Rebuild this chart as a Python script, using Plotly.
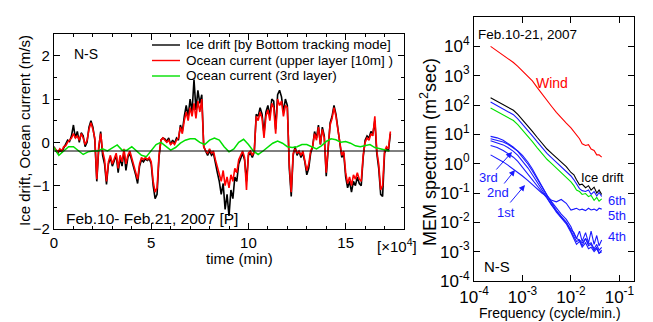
import plotly.graph_objects as go

W, H = 653, 322
FONT = "Liberation Sans"

# ---------------- left panel data (time in units of 1e4 min) ----------------
t_fine = [round(i * 0.1, 1) for i in range(174)]  # 0.0 .. 17.3
ocean_upper = [
    -0.12, -0.18, -0.22, -0.15, -0.20, -0.10, -0.08, 0.00, 0.05, 0.10,
    0.20, 0.10, 0.15, 0.05, 0.20, 0.10, -0.05, 0.05, 0.30, 0.45,
    0.30, 0.10, -0.85, -0.10, 0.20, -0.20, -0.40, -0.90, -0.45, -0.30,
    -0.50, -0.35, -0.25, -0.60, -0.30, -0.45, -0.15, -0.50, -0.30, -0.20,
    -0.35, -0.55, -0.65, -0.85, -0.50, -0.35, -0.40, -0.35, -0.40, -0.35,
    -0.45, -0.90, -1.15, -1.05, -0.30, 0.05, 0.10, 0.05, 0.00, 0.05,
    -0.05, 0.00, -0.05, 0.05, 0.10, 0.35, 0.20, 0.50, 0.70, 0.50,
    0.80, 0.60, 0.90, 0.55, 0.95, 0.70, 1.00, -0.10, -0.20, -0.25,
    -0.15, -0.25, -0.20, -0.40, -0.55, -0.70, -0.90, -0.65, -1.00, -0.80,
    -1.05, -0.75, -0.90, -0.60, -0.70, -0.40, -0.30, -0.20, -0.35, -1.10,
    -0.25, -0.20, -0.30, -0.20, 0.60, 0.50, 0.70, 0.55, 0.10, 0.60,
    0.75, 0.50, 0.90, 0.80, 0.20, 1.00, 0.85, 0.95, 0.60, 0.85,
    0.80, -0.50, -1.15, -0.25, -0.15, -0.25, -0.20, -0.30, -0.20, -0.40,
    -0.65, -0.50, -0.20, -0.10, 0.20, 0.05, 0.35, -0.05, 0.30, 0.10,
    -0.70, -0.10, 0.40, 0.55, 0.80, 0.60, 0.30, 0.00, -0.30, -0.20,
    -0.70, -0.95, -0.80, -1.00, -0.75, -0.85, -0.70, -0.85, -0.90, -0.30,
    0.00, 0.10, 0.05, 0.20, 0.15, 0.60, -0.20, -0.50, -1.10, -1.00,
    -0.20, -0.10, -0.15, 0.25,
]
ice_drift = [
    -0.10, -0.20, -0.25, -0.18, -0.22, -0.12, -0.05, 0.05, 0.02, 0.15,
    0.40, 0.10, 0.25, 0.00, 0.22, 0.15, -0.10, 0.00, 0.35, 0.50,
    0.35, 0.05, -0.90, -0.15, 0.25, -0.30, -0.50, -0.97, -0.50, -0.35,
    -0.55, -0.40, -0.30, -0.70, -0.35, -0.55, -0.20, -0.65, -0.35, -0.25,
    -0.40, -0.60, -0.75, -0.95, -0.55, -0.40, -0.45, -0.38, -0.42, -0.38,
    -0.50, -1.00, -1.30, -1.20, -0.35, 0.05, 0.10, 0.08, 0.02, 0.10,
    -0.05, 0.05, -0.02, 0.10, 0.05, 0.40, 0.25, 0.60, 0.85, 0.60,
    1.00, 0.70, 1.45, 0.75, 1.20, 0.90, 1.10, -0.10, -0.20, -0.30,
    -0.20, -0.30, -0.25, -0.50, -0.70, -0.90, -1.20, -0.95, -1.55, -1.20,
    -1.70, -1.10, -1.30, -0.80, -0.90, -0.50, -0.35, -0.25, -0.40, -0.90,
    -0.30, -0.25, -0.35, -0.22, 0.65, 0.60, 0.80, 0.65, 0.20, 0.70,
    0.85, 0.60, 1.00, 0.95, 0.30, 1.10, 1.20, 1.05, 0.70, 1.00,
    0.85, -0.60, -1.25, -0.30, -0.10, -0.30, -0.20, -0.35, -0.25, -0.45,
    -0.75, -0.60, -0.25, -0.10, 0.25, 0.10, 0.40, -0.05, 0.35, 0.15,
    -0.78, -0.15, 0.45, 0.60, 0.85, 0.65, 0.35, 0.05, -0.35, -0.25,
    -0.80, -1.05, -0.90, -1.15, -0.90, -1.00, -0.80, -0.95, -1.00, -0.35,
    0.05, 0.15, 0.10, 0.25, 0.20, 0.50, -0.25, -0.60, -1.20, -1.25,
    -0.25, -0.15, -0.20, 0.20,
]
t_coarse = [round(i * 0.25, 2) for i in range(70)]  # 0 .. 17.25
ocean_3rd = [
    -0.12, -0.30, -0.20, -0.10, -0.10, -0.20, -0.28, -0.22, -0.20, -0.20,
    -0.15, -0.20, -0.12, -0.06, -0.18, -0.18, -0.10, -0.20, -0.30, -0.33,
    -0.20, -0.05, 0.00, -0.10, -0.18, -0.12, -0.02, 0.05, 0.08, 0.08,
    0.00, -0.05, 0.05, 0.10, 0.05, -0.10, -0.22, -0.15, 0.00, 0.07,
    -0.05, -0.20, -0.28, -0.20, -0.10, -0.02, 0.03, -0.02, -0.10, -0.12,
    -0.10, -0.05, -0.05, -0.10, -0.15, -0.08, 0.02, 0.08, 0.06, 0.00,
    0.02, -0.02, -0.08, -0.10, -0.08, -0.05, -0.12, -0.15, -0.18, -0.20,
]
ref_level = -0.2
t_ticks = [0, 5, 10, 15]
series_names = ["Ice drift [by Bottom tracking mode]",
                "Ocean current (upper layer [10m] )",
                "Ocean current (3rd layer)"]

# ---------------- right panel data (MEM spectra) ----------------
freq = [2.2e-4, 3.0e-4, 4.0e-4, 5.0e-4, 6.5e-4, 8.0e-4, 1.0e-3, 1.3e-3, 1.6e-3, 2.0e-3,
        2.5e-3, 3.2e-3, 4.0e-3, 5.0e-3, 6.3e-3, 8.0e-3, 1.0e-2, 1.15e-2, 1.3e-2, 1.5e-2,
        1.7e-2, 2.0e-2, 2.3e-2, 2.6e-2, 3.0e-2, 3.4e-2, 3.8e-2, 4.3e-2]
# spectra given as log10 values
wind_log = [4.00, 3.85, 3.70, 3.60, 3.45, 3.32, 3.15, 2.98, 2.82, 2.60,
            2.38, 2.15, 1.95, 1.75, 1.55, 1.38, 1.22, 1.10, 0.98, 0.85,
            0.68, 0.62, 0.65, 0.50, 0.45, 0.30, 0.30, 0.22]
ice_log = [2.25, 2.13, 2.03, 1.95, 1.82, 1.68, 1.50, 1.30, 1.10, 0.90,
           0.70, 0.50, 0.35, 0.20, 0.05, -0.10, -0.30, -0.38, -0.55, -0.72,
           -0.70, -0.82, -0.75, -0.90, -0.80, -1.00, -0.90, -1.05]
green_log = [1.90, 1.78, 1.68, 1.60, 1.47, 1.33, 1.15, 0.95, 0.75, 0.55,
             0.35, 0.15, 0.00, -0.15, -0.30, -0.45, -0.62, -0.75, -0.90, -0.95,
             -1.05, -1.02, -1.12, -1.08, -1.25, -1.15, -1.28, -1.20]
l6_log = [2.10, 1.98, 1.88, 1.80, 1.67, 1.53, 1.35, 1.15, 0.95, 0.75,
          0.55, 0.35, 0.20, 0.05, -0.10, -0.25, -0.42, -0.55, -0.70, -0.85,
          -0.92, -0.95, -0.90, -1.05, -0.95, -1.10, -0.98, -1.12]
l5_log = [0.30, 0.18, 0.06, -0.05, -0.18, -0.30, -0.42, -0.58, -0.72, -0.88,
          -1.00, -1.12, -1.25, -1.30, -1.22, -1.35, -1.58, -1.55, -1.52, -1.58,
          -1.55, -1.60, -1.52, -1.58, -1.55, -1.60, -1.52, -1.55]
l4_log = [0.85, 0.80, 0.74, 0.66, 0.54, 0.43, 0.28, 0.05, -0.18, -0.48,
          -0.78, -1.08, -1.30, -1.52, -1.72, -1.90, -2.15, -2.40, -2.55, -2.30,
          -2.65, -2.35, -2.70, -2.30, -2.75, -2.45, -2.80, -2.60]
l3_log = [0.93, 0.88, 0.80, 0.70, 0.56, 0.42, 0.22, -0.02, -0.25, -0.52,
          -0.80, -1.10, -1.35, -1.60, -1.82, -2.00, -2.25, -2.35, -2.55, -2.60,
          -2.70, -2.55, -2.80, -2.75, -2.95, -2.85, -3.05, -2.95]
l2_log = [0.78, 0.72, 0.64, 0.55, 0.42, 0.28, 0.08, -0.15, -0.38, -0.62,
          -0.88, -1.15, -1.40, -1.65, -1.85, -2.05, -2.35, -2.55, -2.75, -2.65,
          -2.85, -2.70, -2.90, -2.85, -3.00, -2.90, -3.05, -3.00]
l1_log = [0.62, 0.55, 0.45, 0.35, 0.22, 0.08, -0.12, -0.33, -0.55, -0.75,
          -0.95, -1.18, -1.42, -1.62, -1.80, -2.00, -2.30, -2.50, -2.65, -2.60,
          -2.80, -2.55, -2.75, -2.70, -2.90, -2.75, -2.95, -2.85]
f_ticks = [1e-4, 1e-3, 1e-2, 1e-1]
f_ticktext = ["10<sup>-4</sup>", "10<sup>-3</sup>", "10<sup>-2</sup>", "10<sup>-1</sup>"]
s_exps = list(range(-4, 6))

# ---------------- figure ----------------
# the page body adds an 8px offset; positions below are screen pixels of the reference
OFF = 8

def px(x):
    return (x - OFF) / W

def py(y):
    return 1 - (y - OFF) / H

BLACK, RED, GREEN, BLUE = "#000000", "#ff0000", "#00e000", "#1a1aff"

fig = go.Figure()
fig.add_trace(go.Scatter(x=t_fine, y=ice_drift, mode="lines", line=dict(color=BLACK, width=1.6),
                         name=series_names[0], xaxis="x", yaxis="y", showlegend=False))
fig.add_trace(go.Scatter(x=t_fine, y=ocean_upper, mode="lines", line=dict(color=RED, width=1.6),
                         name=series_names[1], xaxis="x", yaxis="y", showlegend=False))
fig.add_trace(go.Scatter(x=t_coarse, y=ocean_3rd, mode="lines", line=dict(color=GREEN, width=1.5),
                         name=series_names[2], xaxis="x", yaxis="y", showlegend=False))
fig.add_trace(go.Scatter(x=[0, 18], y=[ref_level, ref_level], mode="lines",
                         line=dict(color=BLACK, width=1), xaxis="x", yaxis="y", showlegend=False,
                         hoverinfo="skip"))

def spec(vals, color):
    return go.Scatter(x=freq, y=[10 ** v for v in vals], mode="lines", line=dict(color=color, width=1.1),
                      xaxis="x2", yaxis="y2", showlegend=False)

for vals, col in [(wind_log, RED), (l1_log, BLUE), (l2_log, BLUE), (l3_log, BLUE), (l4_log, BLUE),
                  (l5_log, BLUE), (green_log, GREEN), (l6_log, BLUE), (ice_log, BLACK)]:
    fig.add_trace(spec(vals, col))

def axis_common(size):
    return dict(showline=True, linecolor="black", linewidth=1.2, mirror="allticks",
                ticks="inside", tickcolor="black", showgrid=False, zeroline=False,
                automargin=False, tickfont=dict(family=FONT, size=size, color="black"))

fig.update_layout(
    width=W, height=H, margin=dict(l=0, r=0, t=0, b=0),
    paper_bgcolor="white", plot_bgcolor="white", showlegend=False,
    font=dict(family=FONT, color="black"),
    xaxis=dict(domain=[px(54), px(404)], range=[0, 18], tickvals=t_ticks, ticklen=6,
               minor=dict(dtick=1, ticklen=3, ticks="inside", tickcolor="black"),
               anchor="y", **axis_common(15)),
    yaxis=dict(domain=[py(229), py(34)], range=[-2, 2.5], dtick=1, ticklen=6,
               minor=dict(dtick=0.5, ticklen=3, ticks="inside", tickcolor="black"),
               anchor="x", **axis_common(15)),
    xaxis2=dict(domain=[px(474), px(634)], type="log", range=[-4, -0.7], tickvals=f_ticks,
                ticktext=f_ticktext, ticklen=6, anchor="y2", **axis_common(17)),
    yaxis2=dict(domain=[py(281), py(17)], type="log", range=[-4, 5],
                tickvals=[10.0 ** k for k in s_exps],
                ticktext=["10<sup>%d</sup>" % k for k in s_exps], ticklen=6, anchor="x2",
                **axis_common(17)),
)

ann = []
def text(x, y, s, size=13, color="black", xanchor="center", angle=0):
    ann.append(dict(x=px(x), y=py(y), xref="paper", yref="paper", text=s, showarrow=False,
                    xanchor=xanchor, yanchor="middle", textangle=angle, borderpad=0,
                    font=dict(family=FONT, size=size, color=color)))

# left panel texts
text(24, 131, "Ice drift, Ocean current (m/s)", 15, angle=-90)
text(239, 258, "time (min)", 15)
text(397, 246, "[\u00d710<sup>4</sup>]", 15)
text(73, 54, "N-S", 14, xanchor="left")
text(65, 218, "Feb.10- Feb.21, 2007 [P]", 15.5, xanchor="left")

# manual legend
shapes = []
for i, (nm, col) in enumerate(zip(series_names, [BLACK, RED, GREEN])):
    yy = [45, 60.5, 76][i]
    shapes.append(dict(type="line", xref="paper", yref="paper", x0=px(152), x1=px(180),
                       y0=py(yy), y1=py(yy), line=dict(color=col, width=1.4)))
    text(185, yy, nm, 13.5, xanchor="left")

# right panel texts
text(428, 152, "MEM spectrum (m<sup>2</sup>sec)", 18, angle=-90)
text(550, 313, "Frequency (cycle/min.)", 14)
text(477, 34, "Feb.10-21, 2007", 13.5, xanchor="left")
text(483, 266, "N-S", 15, xanchor="left")
text(552, 83, "Wind", 14, RED)
text(602, 177, "Ice drift", 13)
text(607, 200, "6th", 13, BLUE, xanchor="left")
text(607, 215, "5th", 13, BLUE, xanchor="left")
text(607, 237, "4th", 13, BLUE, xanchor="left")
text(488, 177, "3rd", 13, BLUE)
text(498, 192, "2nd", 13, BLUE)
text(506, 212, "1st", 13, BLUE)
for tip, tail in [((512, 152), (495, 171)), ((515, 170), (503, 185)), ((525, 185), (509, 204))]:
    ann.append(dict(x=px(tip[0]), y=py(tip[1]), xref="paper", yref="paper", text="",
                    showarrow=True, ax=tail[0] - tip[0], ay=tail[1] - tip[1],
                    arrowhead=2, arrowsize=1.2, arrowwidth=1, arrowcolor=BLUE))

fig.update_layout(annotations=ann, shapes=shapes)
fig.write_html("out.html")
